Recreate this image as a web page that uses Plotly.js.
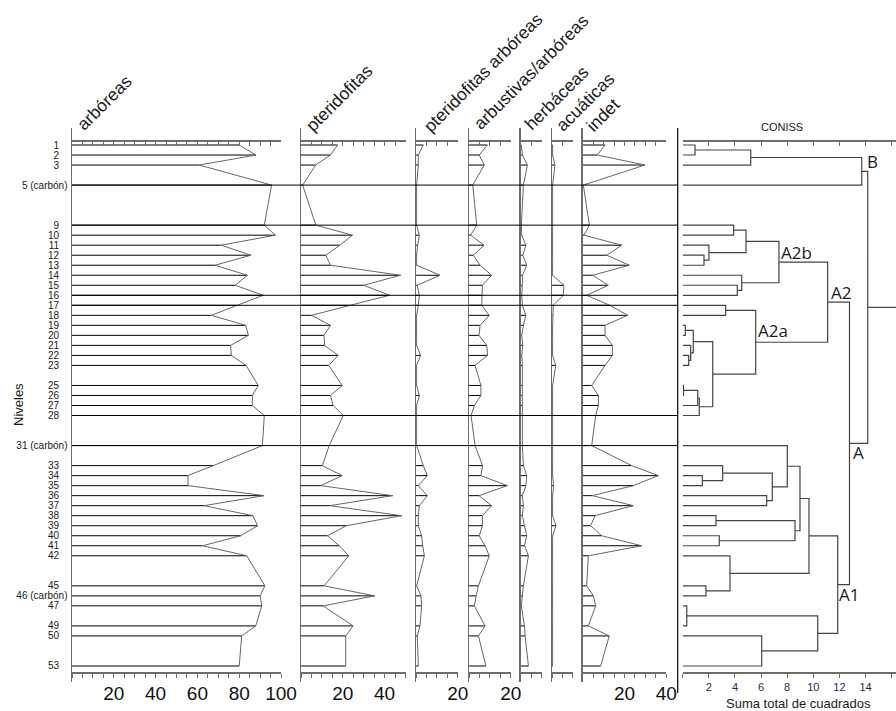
<!DOCTYPE html>
<html><head><meta charset="utf-8">
<script src="https://cdn.plot.ly/plotly-3.0.1.min.js"></script>
<style>html,body{margin:0;padding:0;background:#fff}#chart{width:896px;height:711px}</style>
</head><body><div id="chart"></div>
<script>
// ---------------- DATA ----------------
const levels = [1,2,3,5,9,10,11,12,13,14,15,16,17,18,19,20,21,22,23,25,26,27,28,31,33,34,35,36,37,38,39,40,41,42,45,46,47,49,50,53];
const levelLabels = ["1","2","3","5 (carbón)","9","10","11","12","13","14","15","16","17","18","19","20","21","22","23","25","26","27","28","31 (carbón)","33","34","35","36","37","38","39","40","41","42","45","46 (carbón)","47","49","50","53"];

const arboreas = [80.0,88.0,60.9,95.5,92.0,97.3,71.4,85.6,68.4,83.9,78.1,91.5,79.0,66.7,83.1,84.4,75.9,76.2,83.3,89.1,86.3,86.3,92.0,91.1,67.6,55.4,55.6,91.9,63.2,86.6,88.8,80.7,62.5,83.6,92.3,90.0,90.8,87.9,81.2,80.0];
const pteridofitas = [17.5,14.1,7.0,0.8,7.1,24.6,18.6,11.9,14.1,47.6,30.0,42.4,23.5,5.1,14.1,11.0,11.3,17.8,13.3,19.7,14.1,15.4,20.2,13.5,10.2,19.7,9.5,43.8,13.8,48.1,21.7,12.7,18.3,22.9,11.1,35.2,10.6,24.9,21.4,21.4];
const pteridofitasArboreas = [3.5,1.1,1.1,0.3,0.3,1.6,0.8,0.3,0.3,11.5,0.6,1.6,1.1,0.3,0.3,0.3,0.3,2.2,0.3,0.3,1.6,0.3,0.3,0.3,3.5,5.4,1.1,5.4,1.6,1.1,1.1,2.7,3.2,4.0,0.3,2.4,2.7,1.9,0.6,1.1];
const arbustivasArboreas = [8.8,4.9,7.3,1.8,3.7,0.8,7.2,2.1,5.3,10.8,6.4,6.1,6.1,9.7,5.3,4.8,8.5,8.9,2.9,5.7,5.7,2.6,1.0,2.9,6.5,5.7,18.3,4.8,10.8,6.4,6.4,4.9,7.7,9.7,4.5,3.4,2.6,7.7,4.5,8.1];
const herbaceas = [0.3,0.8,3.2,1.3,0.3,0.5,2.5,1.0,2.9,0.8,0.8,0.5,0.8,2.5,1.3,0.5,1.0,0.5,0.8,0.8,0.8,0.8,0.8,0.8,1.3,2.9,2.5,0.8,1.3,0.8,1.8,2.9,1.8,3.7,1.3,0.8,0.3,1.8,2.1,3.7];
const acuaticas = [0.3,0.3,1.4,0.3,0.3,0.3,0.3,0.3,0.3,0.3,5.7,5.4,0.6,0.3,0.3,0.3,0.3,0.3,1.8,0.3,0.3,0.3,0.3,0.3,0.3,0.3,0.8,0.3,0.3,0.3,1.9,0.3,0.3,0.3,0.3,0.3,0.3,0.3,0.3,0.3];
const indet = [10.7,7.0,29.8,0.3,3.2,0.6,18.7,11.5,22.3,4.8,12.2,1.9,13.0,21.5,10.7,10.7,14.2,14.2,10.7,4.3,7.5,7.5,6.2,4.3,23.4,36.2,24.2,4.6,24.2,5.9,3.8,9.1,28.2,2.7,1.9,5.1,6.2,2.7,12.7,8.6];

const panelTitles = ["arbóreas","pteridofitas","pteridofitas arbóreas","arbustivas/arbóreas","herbáceas","acuáticas","indet"];
const panelMax = [100,50,20,20,10,10,40];
const panelTickLabels = [[20,40,60,80,100],[20,40],[20],[20],[],[],[20,40]];
const separatorLevels = [5,9,16,17,28,31];

// CONISS (leaves = level numbers, "mN" = merge N), heights in total sum of squares
const conissMerges = [
 ["1","2",0.94],["m0","3",5.21],["m1","5",13.71],
 ["9","10",3.90],["12","13",1.63],["11","m4",2.01],["m3","m5",4.85],
 ["15","16",4.18],["14","m7",4.52],["m6","m8",7.37],
 ["17","18",3.29],["19","20",0.20],["22","23",0.46],["21","m12",0.61],["m11","m13",0.81],
 ["25","26",0.06],["m15","27",1.15],["m16","28",1.27],["m14","m17",2.30],["m10","m18",5.59],
 ["m9","m19",11.10],
 ["34","35",1.50],["33","m21",3.06],["36","37",6.43],["m22","m23",6.86],["31","m24",8.01],
 ["38","39",2.55],["40","41",2.80],["m26","m27",8.60],["m25","m28",8.98],
 ["45","46",1.78],["42","m30",3.62],["m29","m31",9.67],
 ["47","49",0.31],["50","53",6.05],["m33","m34",10.34],["m32","m35",11.87],
 ["m20","m36",12.77],["m2","m37",14.17]
];
const conissGroupNames = ["B","A2b","A2a","A2","A","A1"];
const conissGroupMerges = [2,9,19,20,37,36];
const conissTickLabels = [2,4,6,8,10,12,14,16];

// ---------------- STYLE / GEOMETRY ----------------
const W = 896, H = 711;
const FONT = "Liberation Sans, Arial, sans-serif";
const px = p => p / W, py = p => 1 - p / H;
const panelLeft = [72, 301, 416, 469, 520.7, 552, 582.7];
const ppu = 2.09;
const conissLeft = 682.7, conissPpu = 13.06;
const yTopPx = 128, yBotPx = 682, axTopPx = 140, axBotPx = 672;
const lvl0Px = 145, lvlPx = 10.019;
const lvlAt = p => 1 + (p - lvl0Px) / lvlPx;
const yRange = [lvlAt(yBotPx), lvlAt(yTopPx)];
const axisColor = "#6e6e6e";
const series = [arboreas, pteridofitas, pteridofitasArboreas, arbustivasArboreas, herbaceas, acuaticas, indet];
const titleCenters = [[104,103],[339,97.5],[482.5,72.5],[531,71.7],[556.7,98.3],[585,101.7],[603,115]];

const traces = [];
const layout = {
  width: W, height: H, margin: {l:0,r:0,t:0,b:0},
  paper_bgcolor: "#fff", plot_bgcolor: "rgba(0,0,0,0)", showlegend: false,
  font: {family: FONT, color: "#111"},
  shapes: [], annotations: []
};
const yDomain = [py(yBotPx), py(yTopPx)];

function sfx(n){ return n === 1 ? "" : String(n); }

series.forEach((vals, i) => {
  const n = i + 1, top = i + 9;
  const xa = "x" + sfx(n), ya = "y" + sfx(n);
  const max = panelMax[i];
  const dom = [px(panelLeft[i]), px(panelLeft[i] + max * ppu)];
  const tv = []; for (let t = 0; t <= max + 1e-9; t += 5) tv.push(t);
  const tt = tv.map(t => panelTickLabels[i].includes(t) ? String(t) : "");
  layout["xaxis" + sfx(n)] = {
    domain: dom, range: [0, max], anchor: "free", position: py(axBotPx), side: "bottom",
    showline: true, linecolor: axisColor, linewidth: 1.5, ticks: "outside", ticklen: 4,
    tickcolor: axisColor, tickwidth: 1, tickvals: tv, ticktext: tt,
    tickfont: {size: 19, family: FONT, color: "#111"},
    showgrid: false, zeroline: false, fixedrange: true
  };
  layout["xaxis" + top] = {
    overlaying: xa, range: [0, max], anchor: "free", position: py(axTopPx), side: "top",
    showline: true, linecolor: axisColor, linewidth: 1.5, ticks: "inside", ticklen: 4,
    tickcolor: axisColor, tickwidth: 1, tickvals: tv, showticklabels: false,
    showgrid: false, zeroline: false, fixedrange: true
  };
  const yax = {
    domain: yDomain, range: yRange, anchor: xa, showline: true, linecolor: axisColor, linewidth: 1.5,
    showgrid: false, zeroline: false, ticks: "", fixedrange: true
  };
  if (n === 1) {
    yax.tickvals = levels;
    yax.ticktext = levelLabels.map(s => s.includes("(") ? s : s + "\u00a0\u00a0\u00a0");
    yax.tickfont = {size: 10, family: FONT, color: "#1a1a1a"};
    yax.ticklabelstandoff = 1;
  } else {
    yax.showticklabels = false;
  }
  layout["yaxis" + sfx(n)] = yax;

  // bars
  const bx = [], by = [];
  vals.forEach((v, k) => { bx.push(0, v, null); by.push(levels[k], levels[k], null); });
  traces.push({type: "scatter", mode: "lines", x: bx, y: by, xaxis: xa, yaxis: ya,
    line: {color: "#000", width: 1}, hoverinfo: "skip"});
  // outline
  traces.push({type: "scatter", mode: "lines", x: vals, y: levels, xaxis: xa, yaxis: ya,
    line: {color: "#666", width: 1}, hoverinfo: "skip"});
  // top axis placeholder
  traces.push({type: "scatter", mode: "lines", x: [], y: [], xaxis: "x" + top, yaxis: ya, hoverinfo: "skip"});

  layout.annotations.push({
    text: panelTitles[i], xref: "paper", yref: "paper",
    x: px(titleCenters[i][0]), y: py(titleCenters[i][1]),
    xanchor: "center", yanchor: "middle", textangle: -45, showarrow: false,
    font: {size: 17.5, family: FONT, color: "#1a1a1a"}
  });
});

// CONISS panel
const cMax = (W - conissLeft) / conissPpu;
const ctv = [0].concat(conissTickLabels);
layout.xaxis8 = {
  domain: [px(conissLeft), 1], range: [0, cMax], anchor: "free", position: py(axBotPx), side: "bottom",
  showline: true, linecolor: axisColor, linewidth: 1.5, ticks: "outside", ticklen: 4,
  tickcolor: axisColor, tickwidth: 1, tickvals: ctv, ticktext: ctv.map(t => t === 0 ? "" : String(t)),
  tickfont: {size: 11, family: FONT, color: "#1f2a55"},
  showgrid: false, zeroline: false, fixedrange: true
};
layout.xaxis16 = {
  overlaying: "x8", range: [0, cMax], anchor: "free", position: py(axTopPx), side: "top",
  showline: true, linecolor: axisColor, linewidth: 1.5, ticks: "inside", ticklen: 4,
  tickcolor: axisColor, tickwidth: 1, tickvals: ctv, showticklabels: false,
  showgrid: false, zeroline: false, fixedrange: true
};
layout.yaxis8 = {domain: yDomain, range: yRange, anchor: "x8", showline: false, showticklabels: false,
  showgrid: false, zeroline: false, ticks: "", fixedrange: true};

// dendrogram layout computed from merges
const node = {};
levels.forEach(l => { node[String(l)] = {x: 0, y: l}; });
const dx = [], dy = [];
conissMerges.forEach((m, i) => {
  const a = node[m[0]], b = node[m[1]], h = m[2];
  dx.push(a.x, h, h, b.x, null); dy.push(a.y, a.y, b.y, b.y, null);
  node["m" + i] = {x: h, y: (a.y + b.y) / 2};
});
const root = node["m" + (conissMerges.length - 1)];
dx.push(root.x, cMax, null); dy.push(root.y, root.y, null);
traces.push({type: "scatter", mode: "lines", x: dx, y: dy, xaxis: "x8", yaxis: "y8",
  line: {color: "#444", width: 1.2}, hoverinfo: "skip"});
traces.push({type: "scatter", mode: "lines", x: [], y: [], xaxis: "x16", yaxis: "y8", hoverinfo: "skip"});

const groupShift = {B:[4,-3,"bottom"], A2b:[1,-3,"bottom"], A2a:[1,-1,"bottom"], A2:[2,-3,"bottom"], A:[3,3,"top"], A1:[0,3,"top"]};
conissGroupNames.forEach((g, i) => {
  const nd = node["m" + conissGroupMerges[i]];
  const s = groupShift[g];
  layout.annotations.push({text: g, xref: "x8", yref: "y8", x: nd.x, y: nd.y,
    xanchor: "left", yanchor: s[2], xshift: s[0], yshift: s[1], showarrow: false,
    font: {size: 17, family: "Open Sans, Noto Sans, sans-serif", color: "#1a1a1a"}, borderpad: 0});
});

// separators
separatorLevels.forEach(l => {
  layout.shapes.push({type: "line", xref: "paper", yref: "y", x0: px(72), x1: px(678), y0: l, y1: l,
    line: {color: "#000", width: 1}});
});
layout.shapes.push({type: "line", xref: "paper", yref: "paper", x0: px(677.7), x1: px(677.7),
  y0: py(693), y1: py(128), line: {color: "#000", width: 1.2}});

// texts
layout.annotations.push({text: "CONISS", xref: "paper", yref: "paper", x: px(782), y: py(127),
  xanchor: "center", yanchor: "middle", showarrow: false, font: {size: 11, family: FONT, color: "#1a1a1a"}});
layout.annotations.push({text: "Suma total de cuadrados", xref: "paper", yref: "paper", x: px(798), y: py(703),
  xanchor: "center", yanchor: "middle", showarrow: false, font: {size: 13, family: FONT, color: "#1a1a1a"}});
layout.annotations.push({text: "Niveles", xref: "paper", yref: "paper", x: px(18), y: py(405),
  xanchor: "center", yanchor: "middle", textangle: -90, showarrow: false, font: {size: 13, family: FONT, color: "#1a1a1a"}});

Plotly.newPlot("chart", traces, layout, {displayModeBar: false, staticPlot: true});
</script></body></html>
